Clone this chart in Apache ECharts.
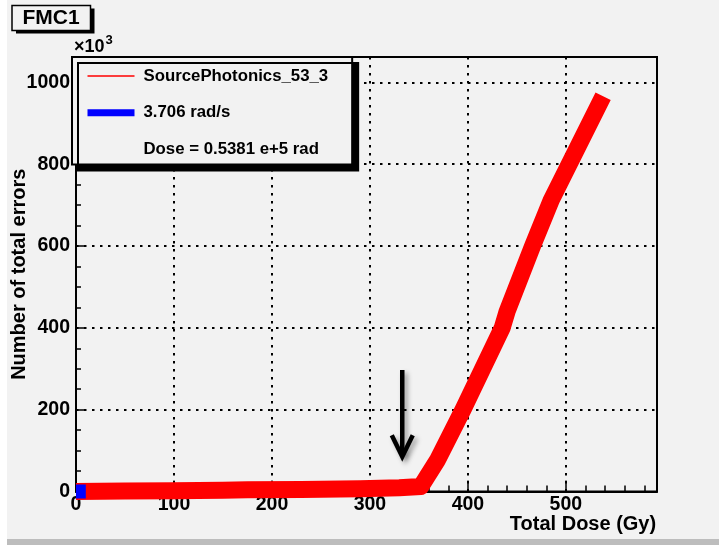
<!DOCTYPE html>
<html><head><meta charset="utf-8">
<script src="https://cdn.jsdelivr.net/npm/echarts@6/dist/echarts.min.js"></script>
<style>html,body{margin:0;padding:0;background:#f2f2f2}#c{width:719px;height:545px}</style>
</head><body><div id="c"></div>
<script>
// ---- data ----
const seriesName = 'SourcePhotonics_53_3';
const rateName = '3.706 rad/s';
const doseName = 'Dose = 0.5381 e+5 rad';
const doseGy   = [0, 50, 100, 150, 175, 230, 290, 330, 352, 369, 395, 435, 440, 466, 485, 505, 538];
const errorsK  = [0, 1, 2, 3, 4, 5, 7, 9, 12, 77, 200, 400, 440, 600, 712, 808, 966];
const rateDose = [0, 10];
const rateErr  = [0, 0];
const arrowFrom = [333, 297];
const arrowTo   = [333, 85];
const xTickLabels = [0, 100, 200, 300, 400, 500];
const yTickLabels = [0, 200, 400, 600, 800, 1000];
const xMax = 593, yMax = 1062;

const FONT = 'Liberation Sans, Arial, Helvetica, sans-serif';
const BG = '#f2f2f2';
const chart = echarts.init(document.getElementById('c'), null, {renderer: 'canvas'});

const mainData = doseGy.map((d, i) => [d, errorsK[i]]);
const rateData = rateDose.map((d, i) => [d, rateErr[i]]);

const gridCommonSplit = {show: true, lineStyle: {color: '#000', width: 2, type: [2.5, 5.5]}};

chart.setOption({
  animation: false,
  backgroundColor: BG,
  textStyle: {fontFamily: FONT},
  title: [{
    text: 'FMC1', left: 22.5, top: 7, padding: 0, z: 10,
    textStyle: {fontFamily: FONT, fontSize: 21, fontWeight: 'bold', color: '#000', lineHeight: 22}
  }],
  graphic: [
    {type: 'rect', left: 0, top: 0, shape: {width: 7, height: 545}, style: {fill: '#ffffff'}, z: -10},
    {type: 'rect', left: 7, top: 539, shape: {width: 712, height: 6}, style: {fill: '#bdbdbd'}, z: -10},
    {type: 'rect', shape: {x: 16, y: 8.5, width: 78.5, height: 25}, style: {fill: '#000'}, z: 1},
    {type: 'rect', shape: {x: 12, y: 5.5, width: 78.5, height: 25}, style: {fill: BG, stroke: '#000', lineWidth: 1.5}, z: 2},
    {type: 'text', left: 74, top: 38.5, style: {text: '×10', font: 'bold 18px ' + FONT, fill: '#000'}},
    {type: 'text', left: 105.5, top: 34, style: {text: '3', font: 'bold 13px ' + FONT, fill: '#000'}}
  ],
  legend: {
    orient: 'vertical', left: 72, top: 57,
    padding: [9, 24, 5, 12],
    itemGap: 16.7, itemWidth: 47, itemHeight: 20,
    selectedMode: false,
    backgroundColor: BG, borderColor: '#000', borderWidth: 2,
    shadowColor: '#000', shadowBlur: 0, shadowOffsetX: 6, shadowOffsetY: 6,
    textStyle: {fontFamily: FONT, fontWeight: 'bold', fontSize: 16.8, color: '#000', lineHeight: 20, padding: [0, 0, 0, 4]},
    data: [
      {name: seriesName, itemStyle: {opacity: 0}, lineStyle: {width: 1.5, color: '#ff0000'}},
      {name: rateName, itemStyle: {opacity: 0}, lineStyle: {width: 7, color: '#0000ff'}},
      {name: doseName, itemStyle: {opacity: 0}, lineStyle: {width: 0, opacity: 0}}
    ]
  },
  grid: {
    left: 76, right: 62, top: 57, bottom: 53.5,
    containLabel: false, outerBoundsMode: 'none',
    show: true, borderColor: '#000', borderWidth: 2, backgroundColor: BG
  },
  xAxis: {
    type: 'value', min: 0, max: xMax, interval: 100,
    name: 'Total Dose (Gy)', nameLocation: 'end', nameGap: -74, nameMoveOverlap: false,
    nameTextStyle: {fontFamily: FONT, fontSize: 20, fontWeight: 'bold', color: '#000', align: 'center', verticalAlign: 'top', padding: [23, 0, 0, 0]},
    axisLine: {show: true, lineStyle: {color: '#000', width: 2}},
    axisTick: {show: true, inside: true, length: 11, lineStyle: {color: '#000', width: 1.5}},
    minorTick: {show: true, splitNumber: 5, length: 6, lineStyle: {color: '#000', width: 1.5}},
    axisLabel: {margin: 3, fontFamily: FONT, fontSize: 19.5, fontWeight: 'bold', color: '#000',
      showMaxLabel: false,
      formatter: v => xTickLabels.includes(v) ? String(v) : ''},
    splitLine: gridCommonSplit
  },
  yAxis: {
    type: 'value', min: 0, max: yMax, interval: 200,
    name: 'Number of total errors', nameLocation: 'middle', nameGap: 47, nameRotate: 90, nameMoveOverlap: false,
    nameTextStyle: {fontFamily: FONT, fontSize: 20, fontWeight: 'bold', color: '#000'},
    axisLine: {show: true, lineStyle: {color: '#000', width: 2}},
    axisTick: {show: true, inside: true, length: 10, lineStyle: {color: '#000', width: 1.5}},
    minorTick: {show: true, splitNumber: 4, length: 5, lineStyle: {color: '#000', width: 1.5}},
    axisLabel: {margin: 6, fontFamily: FONT, fontSize: 19.5, fontWeight: 'bold', color: '#000',
      showMaxLabel: false,
      formatter: v => yTickLabels.includes(v) ? String(v) : ''},
    splitLine: gridCommonSplit
  },
  series: [
    {
      name: seriesName, type: 'line', data: mainData, symbol: 'none', clip: false, z: 3,
      itemStyle: {color: '#ff0000'},
      lineStyle: {color: '#ff0000', width: 17, cap: 'butt', join: 'round'}
    },
    {
      name: rateName, type: 'line', data: rateData, symbol: 'none', clip: false, z: 4,
      itemStyle: {color: '#0000ff'},
      lineStyle: {color: '#0000ff', width: 14, cap: 'butt'}
    },
    {
      name: doseName, type: 'line', data: [], symbol: 'none', itemStyle: {color: BG}
    },
    {
      type: 'custom', z: 5, clip: false,
      data: [[arrowFrom[0], arrowFrom[1], arrowTo[0], arrowTo[1]]],
      encode: {x: [0, 2], y: [1, 3]},
      renderItem: function (params, api) {
        const p0 = api.coord([api.value(0), api.value(1)]);
        const p1 = api.coord([api.value(2), api.value(3)]);
        const st = {stroke: '#000', lineWidth: 4.5, fill: null,
          shadowBlur: 5, shadowColor: 'rgba(0,0,0,0.35)', shadowOffsetX: 3, shadowOffsetY: 3};
        return {type: 'group', children: [
          {type: 'line', shape: {x1: p0[0], y1: p0[1], x2: p1[0], y2: p1[1] - 2}, style: st},
          {type: 'polyline', shape: {points: [[p1[0] - 10.5, p1[1] - 21.5], [p1[0], p1[1]], [p1[0] + 10.5, p1[1] - 21.5]]}, style: Object.assign({lineJoin: 'miter'}, st)}
        ]};
      }
    }
  ]
});
</script></body></html>
